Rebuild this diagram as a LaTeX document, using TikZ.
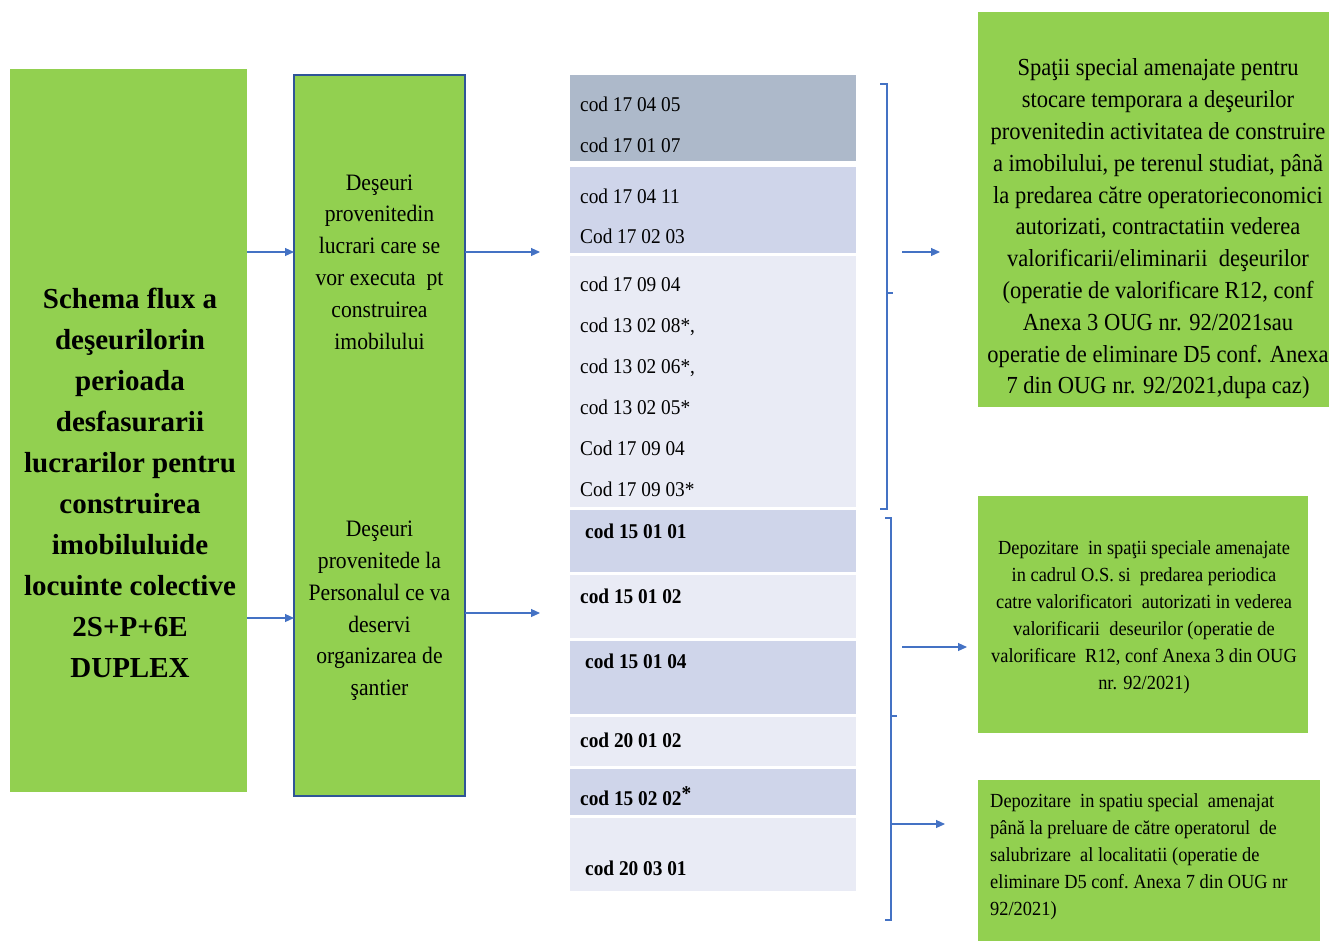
\documentclass[tikz,border=0pt]{standalone}
\usepackage{fontspec}
\setmainfont{Liberation Serif}
\newfontfamily\narrowserif{Liberation Serif}[FakeStretch=0.92]
\usetikzlibrary{arrows.meta, positioning, calc}
\definecolor{leafgreen}{HTML}{92D050}
\definecolor{frameblue}{HTML}{2F5597}
\definecolor{linkblue}{HTML}{4472C4}
\definecolor{rowdark}{HTML}{ADB9CA}
\definecolor{rowmid}{HTML}{CFD5EA}
\definecolor{rowlight}{HTML}{E9EBF5}
\tikzset{
  greenbox/.style={
    rectangle, fill=leafgreen, inner sep=0pt, outer sep=0pt, anchor=north west
  },
  framebox/.style={
    rectangle, fill=leafgreen, draw=frameblue, line width=2.4pt,
    inner sep=0pt, outer sep=0pt
  },
  coderow/.style={
    rectangle, inner sep=0pt, outer sep=0pt, anchor=north west,
    minimum width=286pt
  },
  titletext/.style={
    align=center, inner sep=0pt, font=\fontsize{29}{41}\selectfont\bfseries
  },
  sourcetext/.style={
    align=center, inner sep=0pt, font=\narrowserif\fontsize{23.5}{31.8}\selectfont
  },
  codetext/.style={
    anchor=base west, inner sep=0pt, font=\narrowserif\fontsize{21}{25}\selectfont
  },
  boldcode/.style={codetext, font=\narrowserif\fontsize{21}{25}\selectfont\bfseries},
  storetext/.style={
    align=center, inner sep=0pt, font=\narrowserif\fontsize{24.5}{31.8}\selectfont
  },
  depotext/.style={
    inner sep=0pt, font=\narrowserif\fontsize{20}{27}\selectfont
  },
  arrow/.style={-{Triangle[length=9pt,width=8pt]}, line width=1.1pt, draw=linkblue},
  brace/.style={line width=2.2pt, draw=linkblue},
}
\begin{document}
\begin{tikzpicture}[x=1pt, y=-1pt]
  \useasboundingbox (0,0) rectangle (1329,940);

  % title and sources
  \node[greenbox, minimum width=237pt, minimum height=723pt] (title) at (10,69) {};
  \node[titletext] (titletxt) at (130,483) {Schema flux a\\deşeurilorin\\perioada\\desfasurarii\\lucrarilor pentru\\construirea\\imobiluluide\\locuinte colective\\2S+P+6E\\DUPLEX};
  \node[framebox, minimum width=171pt, minimum height=721pt] (mid) at (379.5,435.5) {};
  \node[sourcetext] (worktxt) at (379.5,262) {Deşeuri\\provenitedin\\lucrari care se\\vor executa\ \ pt\\construirea\\imobilului};
  \node[sourcetext] (stafftxt) at (379.5,611) {Deşeuri\\provenitede la\\Personalul ce va\\deservi\\organizarea de\\şantier};

  % code table
  \node[coderow, fill=rowdark,  minimum height=86pt] (r1) at (570,75) {};
  \node[coderow, fill=rowmid,   minimum height=86pt] (r2) at (570,167) {};
  \node[coderow, fill=rowlight, minimum height=251pt] (r3) at (570,256) {};
  \node[coderow, fill=rowmid,   minimum height=62pt] (r4) at (570,510) {};
  \node[coderow, fill=rowlight, minimum height=63pt] (r5) at (570,575) {};
  \node[coderow, fill=rowmid,   minimum height=73pt] (r6) at (570,641) {};
  \node[coderow, fill=rowlight, minimum height=49pt] (r7) at (570,717) {};
  \node[coderow, fill=rowmid,   minimum height=46pt] (r8) at (570,769) {};
  \node[coderow, fill=rowlight, minimum height=73pt] (r9) at (570,818) {};

  \node[codetext] (c1) at (580,111) {cod 17 04 05};
  \node[codetext] (c2) at (580,152) {cod 17 01 07};
  \node[codetext] (c3) at (580,203) {cod 17 04 11};
  \node[codetext] (c4) at (580,243) {Cod 17 02 03};
  \node[codetext] (c5) at (580,291) {cod 17 09 04};
  \node[codetext] (c6) at (580,332) {cod 13 02 08*,};
  \node[codetext] (c7) at (580,373) {cod 13 02 06*,};
  \node[codetext] (c8) at (580,414) {cod 13 02 05*};
  \node[codetext] (c9) at (580,455) {Cod 17 09 04};
  \node[codetext] (c10) at (580,496) {Cod 17 09 03*};
  \node[boldcode] (c11) at (585,538) {cod 15 01 01};
  \node[boldcode] (c12) at (580,603) {cod 15 01 02};
  \node[boldcode] (c13) at (585,668) {cod 15 01 04};
  \node[boldcode] (c14) at (580,747) {cod 20 01 02};
  \node[boldcode] (c15) at (580,805) {cod 15 02 02\raisebox{5pt}{*}};
  \node[boldcode] (c16) at (585,875) {cod 20 03 01};

  % destinations
  \node[greenbox, minimum width=351pt, minimum height=395pt] (store) at (978,12) {};
  \node[storetext] (storetxt) at (1158,229) {Spaţii special amenajate pentru\\stocare temporara a deşeurilor\\provenitedin activitatea de construire\\a imobilului, pe terenul studiat, până\\la predarea către operatorieconomici\\autorizati, contractatiin vederea\\valorificarii/eliminarii\ \ deşeurilor\\(operatie de valorificare R12, conf\\Anexa 3 OUG nr. 92/2021sau\\operatie de eliminare D5 conf. Anexa\\7 din OUG nr. 92/2021,dupa caz)};
  \node[greenbox, minimum width=330pt, minimum height=237pt] (depot) at (978,496) {};
  \node[depotext, align=center] (depottxt) at (1144,617) {Depozitare\ \ in spaţii speciale amenajate\\in cadrul O.S. si\ \ predarea periodica\\catre valorificatori\ \ autorizati in vederea\\valorificarii\ \ deseurilor (operatie de\\valorificare\ \ R12, conf Anexa 3 din OUG\\nr. 92/2021)};
  \node[greenbox, minimum width=342pt, minimum height=165pt] (dump) at (978,780) {};
  \node[depotext, align=left, anchor=west] (dumptxt) at (990,857) {Depozitare\ \ in spatiu special\ \ amenajat\\până la preluare de către operatorul\ \ de\\salubrizare\ \ al localitatii (operatie de\\eliminare D5 conf.\ Anexa 7 din OUG nr\\92/2021)};

  % levels of the arrows
  \coordinate (upper) at (0,252);
  \coordinate (lowin) at (0,618);
  \coordinate (lowout) at (0,613);
  \coordinate (b1top) at (887,84);
  \coordinate (b1bot) at (887,509);
  \coordinate (b1mid) at (887,293);
  \coordinate (b2top) at (891,518);
  \coordinate (b2bot) at (891,920);
  \coordinate (b2mid) at (891,716);

  \draw[arrow] (title.east |- upper) -- (mid.west |- upper);
  \draw[arrow] (title.east |- lowin) -- (mid.west |- lowin);
  \draw[arrow, shorten >=30pt] (mid.east |- upper) -- (r2.west |- upper);
  \draw[arrow, shorten >=30pt] (mid.east |- lowout) -- (r5.west |- lowout);

  % brackets
  \draw[brace] ([xshift=-7pt]b1top) -- (b1top) -- (b1bot) -- ([xshift=-7pt]b1bot);
  \draw[brace] (b1mid) -- ++(6,0);
  \draw[brace] ([xshift=-6pt]b2top) -- (b2top) -- (b2bot) -- ([xshift=-6pt]b2bot);
  \draw[brace] (b2mid) -- ++(6,0);

  \draw[arrow, shorten <=15pt, shorten >=38pt] (b1top |- upper) -- (store.west |- upper);
  \draw[arrow, shorten <=11pt, shorten >=11pt] (b2top |- 0,647) -- (depot.west |- 0,647);
  \draw[arrow, shorten >=33pt] (b2top |- 0,824) -- (dump.west |- 0,824);
\end{tikzpicture}
\end{document}
